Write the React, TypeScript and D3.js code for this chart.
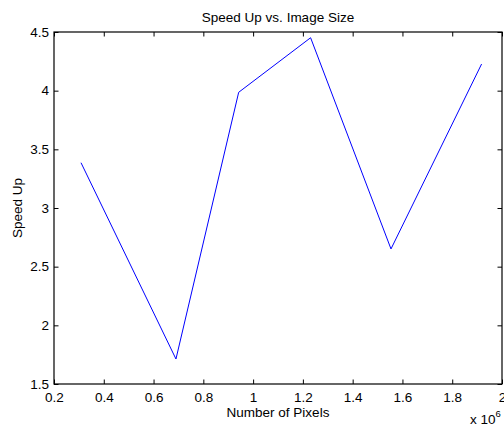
import React, { useEffect, useRef } from "react";
import * as d3 from "d3";

// image size (pixels) and measured speed up
const pixels = [0.3085e6, 0.69e6, 0.942e6, 1.231e6, 1.554e6, 1.918e6];
const speedUp = [3.386, 1.713, 3.986, 4.451, 2.651, 4.227];
const xTicks = [0.2, 0.4, 0.6, 0.8, 1, 1.2, 1.4, 1.6, 1.8, 2];
const yTicks = [1.5, 2, 2.5, 3, 3.5, 4, 4.5];

const W = 504;
const H = 425;
const font = "'Liberation Sans', Arial, Helvetica, sans-serif";
const fs = "13.5px";

export default function App() {
  const ref = useRef<SVGSVGElement>(null);

  useEffect(() => {
    document.body.style.margin = "0";
    const svg = d3.select(ref.current);
    svg.selectAll("*").remove();

    const left = 54, right = 502, top = 32, bottom = 384;

    const x = d3.scaleLinear().domain([0.2, 2]).range([left, right]);
    const y = d3.scaleLinear().domain([1.5, 4.5]).range([bottom, top]);

    // white background
    svg.append("rect").attr("width", W).attr("height", H).attr("fill", "#fff");

    // inward ticks on all four sides, MATLAB style
    const tick = 4.5;
    const xa = d3.axisBottom(x).tickValues(xTicks).tickSizeInner(-tick).tickSizeOuter(0).tickPadding(8)
      .tickFormat((d) => String(d));
    const xTop = d3.axisTop(x).tickValues(xTicks).tickSizeInner(-tick).tickSizeOuter(0).tickFormat(() => "");
    const ya = d3.axisLeft(y).tickValues(yTicks).tickSizeInner(-tick).tickSizeOuter(0).tickPadding(5)
      .tickFormat((d) => String(d));
    const yRight = d3.axisRight(y).tickValues(yTicks).tickSizeInner(-tick).tickSizeOuter(0).tickFormat(() => "");

    const style = (g: any) => {
      g.select(".domain").remove();
      g.selectAll("line").attr("stroke", "#000").attr("stroke-width", 1);
      g.selectAll("text").attr("font-family", font).attr("font-size", fs).attr("fill", "#000");
    };

    svg.append("g").attr("transform", `translate(0,${bottom})`).call(xa).call(style);
    svg.append("g").attr("transform", `translate(0,${top})`).call(xTop).call(style);
    svg.append("g").attr("transform", `translate(${left},0)`).call(ya).call(style);
    svg.append("g").attr("transform", `translate(${right},0)`).call(yRight).call(style);

    // the data line
    const line = d3.line<number>()
      .x((d, i) => x(pixels[i] / 1e6))
      .y((d) => y(d));
    svg.append("path")
      .datum(speedUp)
      .attr("d", line)
      .attr("fill", "none")
      .attr("stroke", "#0000ff")
      .attr("stroke-width", 1);

    // box
    svg.append("rect")
      .attr("x", left).attr("y", top)
      .attr("width", right - left).attr("height", bottom - top)
      .attr("fill", "none").attr("stroke", "#000").attr("stroke-width", 1.2);

    const txt = (sel: any) => sel.attr("font-family", font).attr("font-size", fs).attr("fill", "#000");

    svg.append("text").call(txt)
      .attr("x", (left + right) / 2).attr("y", 22)
      .attr("text-anchor", "middle")
      .text("Speed Up vs. Image Size");

    svg.append("text").call(txt)
      .attr("x", (left + right) / 2).attr("y", 417)
      .attr("text-anchor", "middle")
      .text("Number of Pixels");

    svg.append("text").call(txt)
      .attr("transform", `translate(22,${(top + bottom) / 2}) rotate(-90)`)
      .attr("text-anchor", "middle")
      .text("Speed Up");

    // exponent
    const ex = svg.append("text").call(txt).attr("x", 470).attr("y", 424);
    ex.append("tspan").text("x 10");
    ex.append("tspan").attr("font-size", "9.5px").attr("dy", -7).text("6");
  }, []);

  return <svg ref={ref} width={W} height={H} style={{ display: "block" }} />;
}
